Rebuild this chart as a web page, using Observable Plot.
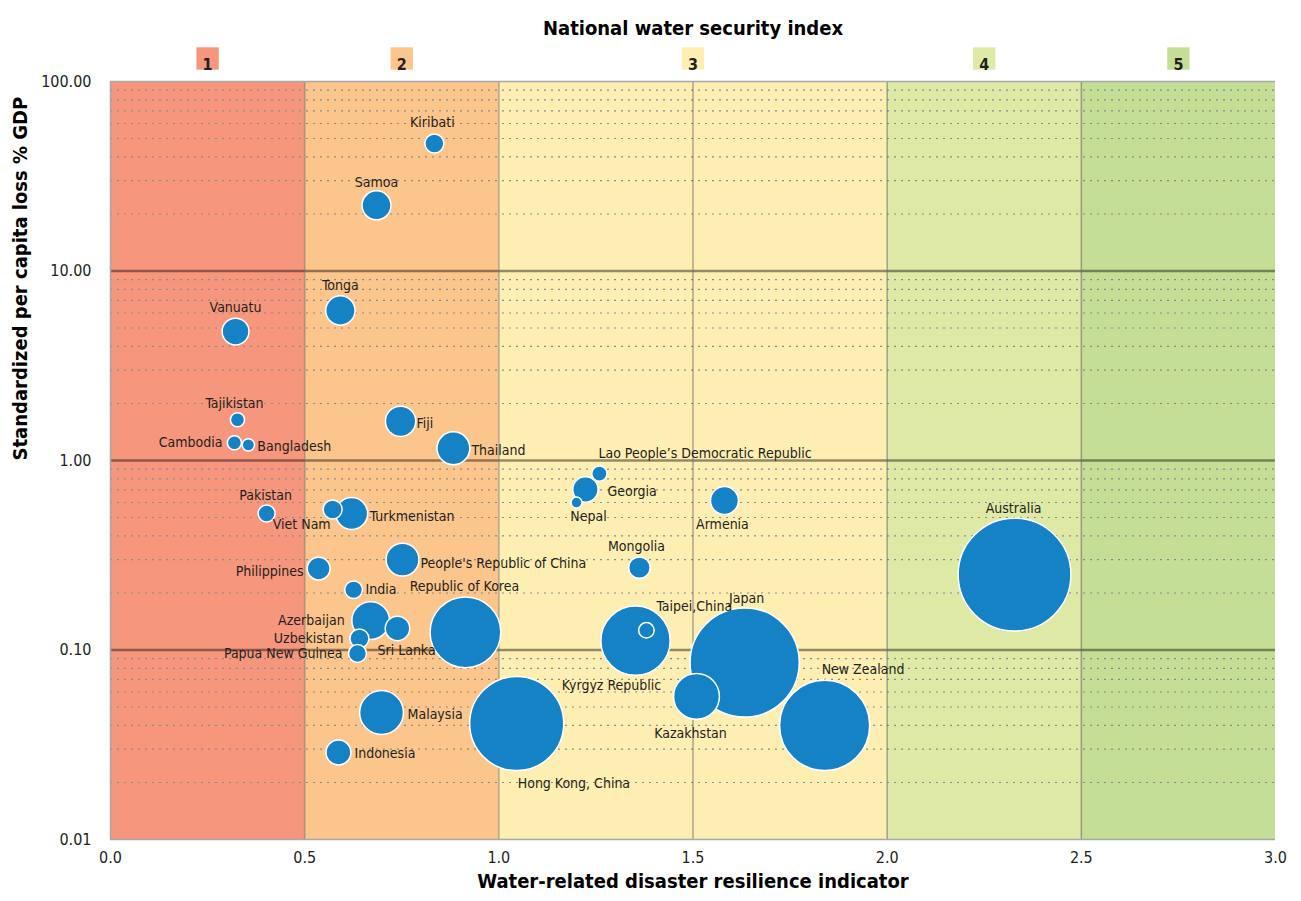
<!DOCTYPE html>
<html><head><meta charset="utf-8">
<script src="https://cdn.jsdelivr.net/npm/d3@7"></script>
<script src="https://cdn.jsdelivr.net/npm/@observablehq/plot@0.6"></script>
<style>
body{margin:0;background:#fff;}
#chart svg{display:block;}
</style></head><body><div id="chart"></div>
<script>
// ---- data ----
const countries = ["Kiribati","Samoa","Tonga","Vanuatu","Tajikistan","Cambodia","Bangladesh","Fiji","Thailand",
  "Lao People\u2019s Democratic Republic","Georgia","Nepal","Armenia","Pakistan","Viet Nam","Turkmenistan",
  "People's Republic of China","Mongolia","Philippines","India","Republic of Korea","Azerbaijan","Uzbekistan",
  "Papua New Guinea","Sri Lanka","Taipei,China","Japan","Kyrgyz Republic","Kazakhstan","New Zealand",
  "Hong Kong, China","Malaysia","Indonesia","Australia"];
const resilience = [0.834,0.685,0.592,0.322,0.327,0.319,0.355,0.747,0.883,
  1.259,1.223,1.200,1.581,0.402,0.572,0.621,
  0.752,1.362,0.536,0.626,0.914,0.670,0.641,
  0.636,0.739,1.380,1.633,1.352,1.509,1.839,
  1.046,0.698,0.587,2.328];
const lossPctGDP = [47.1,22.2,6.19,4.79,1.64,1.24,1.21,1.61,1.16,
  0.853,0.703,0.600,0.615,0.525,0.551,0.525,
  0.300,0.272,0.269,0.208,0.124,0.143,0.115,
  0.0959,0.130,0.127,0.0859,0.112,0.0569,0.0400,
  0.0409,0.0468,0.0288,0.250];
const bubbleSize = [90,210,215,180,50,50,38,230,270,
  58,160,30,195,72,90,255,
  270,115,130,78,1250,355,90,
  80,150,60,2980,1200,525,2030,
  2210,480,155,3180];
const bandEdges = [0, 0.5, 1.0, 2.0, 2.5, 3.0];
const bandLabels = ["1","2","3","4","5"];
const bandColors = ["#F6967D","#FBC58B","#FEEEB1","#DFE9A6","#C4DE95"];
const xTicks = [0, 0.5, 1.0, 1.5, 2.0, 2.5, 3.0];
const yTicks = [0.01, 0.1, 1, 10, 100];
const xDividers = [0.5, 1.0, 1.5, 2.0, 2.5];
const majorGrid = [0.1, 1, 10];
const minorGrid = [0.01, 0.1, 1, 10].flatMap(d => [2,3,4,5,6,7,8,9].map(k => +(k*d).toPrecision(3)));

// label placement (layout only): [anchor, dx, dy]
const labelLayout = {
  "Kiribati":["middle",-2,-21], "Samoa":["middle",0,-23], "Tonga":["middle",0,-25], "Vanuatu":["middle",0,-24],
  "Tajikistan":["middle",-3,-16], "Cambodia":["end",-12,0], "Bangladesh":["start",9,2], "Fiji":["start",16,2],
  "Thailand":["start",18,2], "Lao People\u2019s Democratic Republic":["start",-1,-20], "Georgia":["start",22,2],
  "Nepal":["middle",12,14], "Armenia":["middle",-2,24], "Pakistan":["middle",-1,-18], "Viet Nam":["end",-2,15],
  "Turkmenistan":["start",18,3], "People's Republic of China":["start",18,4], "Mongolia":["middle",-3,-21],
  "Philippines":["end",-15,3], "India":["start",12,0], "Republic of Korea":["middle",-1,-46],
  "Azerbaijan":["end",-26,0], "Uzbekistan":["end",-16,0], "Papua New Guinea":["end",-15,0],
  "Sri Lanka":["start",-20,22], "Taipei,China":["start",10,-24], "Japan":["middle",2,-64],
  "Kyrgyz Republic":["middle",-24,45], "Kazakhstan":["middle",-6,37], "New Zealand":["start",-3,-56],
  "Hong Kong, China":["start",1,60], "Malaysia":["start",26,2], "Indonesia":["start",16,1],
  "Australia":["middle",-1,-66]
};

// ---- tables built from arrays ----
const points = countries.map((c,i) => ({country:c, x:resilience[i], y:lossPctGDP[i], size:bubbleSize[i]}))
  .sort((a,b) => b.size - a.size);
const bands = bandLabels.map((l,i) => ({label:l, x1:bandEdges[i], x2:bandEdges[i+1],
  center:(bandEdges[i]+bandEdges[i+1])/2, color:bandColors[i]}));

const FONT = "'Liberation Sans Narrow','DejaVu Sans Condensed','Arial Narrow',sans-serif";

const labelMarks = points.map(p => {
  const [a, dx, dy] = labelLayout[p.country];
  return Plot.text([p], {x:"x", y:"y", text:"country", textAnchor:a, dx, dy, fontSize:14, fill:"#231f20"});
});

const chart = Plot.plot({
  width: 1301, height: 901,
  marginLeft: 110, marginRight: 26, marginTop: 81, marginBottom: 62,
  x: {domain: [0, 3]},
  y: {type: "log", domain: [0.01, 100]},
  r: {domain: [0, 3249], range: [0, 57]},
  style: {fontFamily: FONT, fontSize: "15px", color: "#231f20", background: "#fff"},
  marks: [
    Plot.rect(bands, {x1:"x1", x2:"x2", fill:"color"}),
    Plot.ruleY(minorGrid, {stroke:"#8a8a8a", strokeDasharray:"2,5", strokeWidth:1.1}),
    Plot.ruleY(majorGrid, {stroke:"#000", strokeOpacity:0.42, strokeWidth:2.5}),
    Plot.ruleX(xDividers, {stroke:"#666", strokeOpacity:0.55, strokeWidth:1.5}),
    Plot.ruleY([100], {stroke:"#a8a8a8", strokeWidth:1.5}),
    Plot.ruleY([0.01], {stroke:"#a8a8a8", strokeWidth:1.5}),
    Plot.ruleX([0], {stroke:"#a8a8a8", strokeWidth:1.5}),
    Plot.axisX({ticks: xTicks, tickFormat: d3.format(".1f"), tickSize: 0, tickPadding: 12, label: null, fontSize: 16}),
    Plot.axisY({ticks: yTicks, tickFormat: d3.format(".2f"), tickSize: 0, tickPadding: 19, label: null, fontSize: 16}),
    Plot.dot(points, {x:"x", y:"y", r:"size", fill:"#1482C5", stroke:"#fff", strokeWidth:1.5}),
    ...labelMarks,
    Plot.dot(bands, {x:"center", frameAnchor:"top", dy:-23, symbol:"square", r:12.6, fill:"color"}),
    Plot.text(bands, {x:"center", text:"label", frameAnchor:"top", dy:-23, fontSize:16, fontWeight:"bold", fill:"#231f20"}),
    Plot.text(["National water security index"], {frameAnchor:"top", dy:-61, fontSize:20, fontWeight:"bold", fill:"#000"}),
    Plot.text(["Water-related disaster resilience indicator"], {frameAnchor:"bottom", dy:48, fontSize:20, fontWeight:"bold", fill:"#000"}),
    Plot.text(["Standardized per capita loss % GDP"], {frameAnchor:"left", dx:-90, rotate:-90, fontSize:20, fontWeight:"bold", fill:"#000"})
  ]
});
document.getElementById("chart").appendChild(chart);
</script>
</body></html>
